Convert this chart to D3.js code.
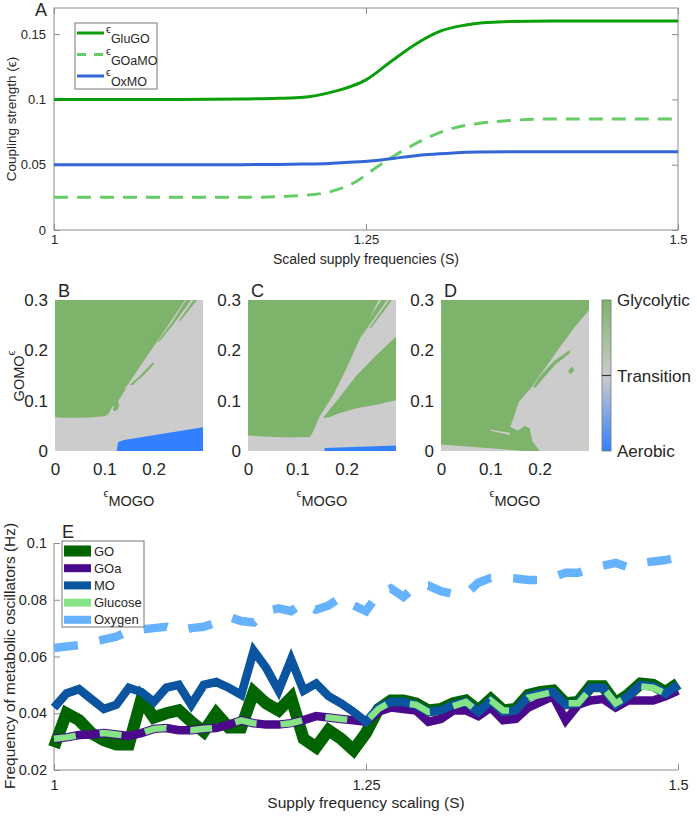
<!DOCTYPE html>
<html><head><meta charset="utf-8">
<script src="https://cdn.jsdelivr.net/npm/d3@7/dist/d3.min.js"></script>
<style>
body{margin:0;background:#fff;}
svg text{font-family:"Liberation Sans",Arial,Helvetica,sans-serif;fill:#262626;}
</style></head>
<body><svg id="chart" width="697" height="816"></svg>
<script>
// ================= DATA =================
// Panel A : coupling strengths vs scaled supply frequency
const sGluGO = [1.00,1.10,1.15,1.18,1.20,1.22,1.23,1.25,1.27,1.29,1.31,1.33,1.36,1.40,1.45,1.50];
const vGluGO = [0.100,0.100,0.1003,0.1008,0.1016,0.1050,0.1075,0.1150,0.1290,0.1425,0.1525,0.1570,0.1595,0.1600,0.1600,0.1600];
const sGOaMO = [1.00,1.10,1.15,1.18,1.20,1.22,1.24,1.26,1.28,1.30,1.32,1.34,1.36,1.40,1.45,1.50];
const vGOaMO = [0.025,0.025,0.025,0.0255,0.0265,0.029,0.036,0.049,0.061,0.071,0.078,0.0815,0.0835,0.085,0.085,0.085];
const sOxMO  = [1.00,1.10,1.15,1.18,1.20,1.22,1.24,1.26,1.28,1.30,1.32,1.34,1.38,1.45,1.50];
const vOxMO  = [0.050,0.050,0.050,0.0502,0.0505,0.051,0.052,0.0535,0.0558,0.0578,0.059,0.0597,0.060,0.060,0.060];
const seriesA = ["GluGO","GOaMO","OxMO"];
const ticksAx = [1,1.25,1.5];
const ticksAy = [0,0.05,0.1,0.15];

// Panels B-D : regime maps (region outlines in eps_MOGO / eps_GOMO coordinates)
const mapTicksX = [0,0.1,0.2];
const mapTicksY = [0,0.1,0.2,0.3];
const bGreen = [[0,0.3],[0.2635,0.3],[0.235,0.258],[0.205,0.215],[0.175,0.172],[0.15,0.135],[0.135,0.11],[0.128,0.1],[0.13,0.09],[0.127,0.082],[0.12,0.079],[0.117,0.083],[0.12,0.088],[0.116,0.089],[0.112,0.08],[0.108,0.073],[0.1,0.069],[0.06,0.066],[0.02,0.066],[0,0.067]];
const bGreenBits = [
  [[0.151,0.131],[0.17,0.147],[0.198,0.176],[0.201,0.173],[0.18,0.151],[0.157,0.131]],
  [[0.266,0.3],[0.276,0.3],[0.24,0.252],[0.212,0.218],[0.207,0.216],[0.236,0.254]],
  [[0.281,0.3],[0.288,0.3],[0.255,0.26],[0.25,0.258]],
  [[0.186,0.205],[0.222,0.245],[0.224,0.243],[0.19,0.204]]
];
const bGrayBits = [[[0.14,0.124],[0.175,0.16],[0.196,0.177],[0.18,0.158],[0.15,0.128]]];
const bBlue  = [[0.125,0],[0.128,0.018],[0.14,0.022],[0.3,0.047],[0.3,0]];

const cGreen = [[0,0.3],[0.265,0.3],[0.25,0.27],[0.23,0.23],[0.2,0.165],[0.175,0.115],[0.158,0.088],[0.145,0.068],[0.138,0.052],[0.13,0.035],[0.125,0.028],[0.08,0.027],[0.03,0.029],[0,0.031]];
const cGreenBits = [
  [[0.152,0.066],[0.18,0.1],[0.22,0.15],[0.26,0.19],[0.3,0.227],[0.3,0.101],[0.26,0.092],[0.22,0.085],[0.185,0.075],[0.165,0.067]],
  [[0.27,0.3],[0.282,0.3],[0.235,0.235],[0.205,0.198],[0.2,0.197],[0.228,0.235]],
  [[0.286,0.3],[0.292,0.3],[0.25,0.245],[0.245,0.243]]
];
const cGrayBits = [[[0.205,0.085],[0.3,0.128],[0.3,0.122],[0.215,0.086]]];
const cBlue  = [[0.155,0],[0.155,0.006],[0.3,0.011],[0.3,0]];

const dGreen = [[0,0.3],[0.3,0.3],[0.3,0.28],[0.27,0.245],[0.24,0.205],[0.215,0.17],[0.2,0.15],[0.185,0.128],[0.17,0.112],[0.158,0.098],[0.151,0.078],[0.145,0.06],[0.14,0.048],[0.155,0.04],[0.17,0.05],[0.18,0.045],[0.185,0.02],[0.2,0],[0.17,0],[0,0.013]];
const dGreenBits = [
  [[0.186,0.126],[0.2,0.148],[0.228,0.178],[0.26,0.2],[0.262,0.195],[0.232,0.172],[0.205,0.142],[0.192,0.126]],
  [[0.258,0.16],[0.266,0.168],[0.27,0.16],[0.262,0.152]]
];
const dGrayBits = [[[0.1,0.042],[0.14,0.036],[0.14,0.032],[0.1,0.04]]];
const dBlue = [];
const cbLabels = ["Glycolytic","Transition","Aerobic"];

// Panel E : frequencies of metabolic oscillators
const sE = [1.00,1.01,1.02,1.03,1.04,1.05,1.06,1.07,1.08,1.09,1.10,1.11,1.12,1.13,1.14,1.15,1.16,1.17,1.18,1.19,1.20,1.21,1.22,1.23,1.24,1.25,1.26,1.27,1.28,1.29,1.30,1.31,1.32,1.33,1.34,1.35,1.36,1.37,1.38,1.39,1.40,1.41,1.42,1.43,1.44,1.45,1.46,1.47,1.48,1.49,1.50];
const GO = [0.028,0.040,0.0376,0.033,0.0305,0.029,0.029,0.045,0.0385,0.040,0.041,0.037,0.0335,0.040,0.035,0.035,0.0475,0.0435,0.041,0.0455,0.031,0.028,0.034,0.031,0.027,0.033,0.0415,
            0.0445,0.0445,0.0435,0.041,0.0415,0.0435,0.0445,0.041,0.045,0.041,0.0415,0.0465,0.0475,0.048,0.0435,0.044,0.0495,0.0495,0.0435,0.0465,0.0505,0.050,0.0475,0.0505];
const GOa = [0.031,0.0315,0.0323,0.0325,0.033,0.0325,0.032,0.033,0.0345,0.0348,0.034,0.034,0.0345,0.0348,0.036,0.0375,0.0365,0.036,0.036,0.0365,0.0376,0.039,0.0385,0.038,0.0375,0.037,0.0405,
             0.042,0.0415,0.041,0.037,0.038,0.041,0.041,0.039,0.042,0.0375,0.038,0.042,0.044,0.046,0.0375,0.043,0.0445,0.045,0.042,0.0445,0.0445,0.0445,0.046,0.048];
const MO = [0.042,0.047,0.0485,0.045,0.0415,0.043,0.049,0.0475,0.044,0.049,0.050,0.043,0.050,0.051,0.049,0.0465,0.062,0.056,0.048,0.059,0.048,0.0505,0.046,0.0435,0.0405,0.037,0.042,
            0.044,0.044,0.043,0.0405,0.041,0.043,0.044,0.0405,0.0445,0.0405,0.041,0.046,0.047,0.0475,0.043,0.0435,0.049,0.049,0.043,0.046,0.050,0.0495,0.047,0.050];
const Glucose = [0.031,0.0315,0.0323,0.0325,0.033,0.0325,0.032,0.033,0.0345,0.0348,0.034,0.034,0.0345,0.0348,0.036,0.0375,0.0365,0.036,0.036,0.0365,0.0376,0.039,0.0385,0.038,0.0375,0.037,0.0415,
                 0.044,0.0435,0.043,0.0405,0.041,0.0425,0.044,0.0405,0.0445,0.041,0.041,0.0455,0.0465,0.0475,0.0435,0.0435,0.0485,0.049,0.0435,0.046,0.0495,0.049,0.047,0.049];
const Oxygen = [0.063,0.0635,0.064,0.065,0.066,0.067,0.069,0.0695,0.070,0.0705,0.069,0.070,0.0705,0.072,0.074,0.0725,0.072,0.076,0.077,0.076,0.079,0.0765,0.078,0.081,0.078,0.076,0.082,
                0.084,0.081,0.085,0.085,0.083,0.082,0.082,0.086,0.0877,0.0877,0.0875,0.087,0.087,0.088,0.0895,0.0895,0.091,0.092,0.093,0.0915,0.093,0.0935,0.094,0.095];
const namesE = ["GO","GOa","MO","Glucose","Oxygen"];
const ticksEx = [1,1.25,1.5];
const ticksEy = [0.02,0.04,0.06,0.08,0.1];

// ================= DRAWING =================
const svg = d3.select("#chart");
const AX = "#8c8c8c";
const fmt = d => String(+d.toFixed(3));

function styleAxis(g, fs){
  g.select(".domain").remove();
  g.selectAll(".tick line").attr("stroke", AX);
  g.selectAll(".tick text").attr("font-size", fs).attr("fill","#262626").style("font-family","Liberation Sans, Arial, sans-serif");
}

// ---------- Panel A ----------
const xA = d3.scaleLinear().domain([1,1.5]).range([54,678]);
const yA = d3.scaleLinear().domain([0,0.17]).range([230,8]);
const gA = svg.append("g");
gA.append("rect").attr("x",54).attr("y",8).attr("width",624).attr("height",222).attr("fill","none").attr("stroke",AX);
styleAxis(gA.append("g").attr("transform","translate(0,230)").call(d3.axisBottom(xA).tickValues(ticksAx).tickSize(-6).tickPadding(5).tickFormat(fmt)),13);
styleAxis(gA.append("g").attr("transform","translate(0,8)").call(d3.axisTop(xA).tickValues(ticksAx).tickSize(-6).tickFormat("")),13);
styleAxis(gA.append("g").attr("transform","translate(54,0)").call(d3.axisLeft(yA).tickValues(ticksAy).tickSize(-6).tickPadding(8).tickFormat(fmt)),13);
styleAxis(gA.append("g").attr("transform","translate(678,0)").call(d3.axisRight(yA).tickValues(ticksAy).tickSize(-6).tickFormat("")),13);

const lineA = d3.line().x(d=>xA(d[0])).y(d=>yA(d[1])).curve(d3.curveMonotoneX);
const styleA = {
  GluGO:{data:d3.zip(sGluGO,vGluGO), color:"#0a9e0a", dash:null},
  GOaMO:{data:d3.zip(sGOaMO,vGOaMO), color:"#66cc66", dash:"14,9"},
  OxMO:{data:d3.zip(sOxMO,vOxMO), color:"#3366d6", dash:null}
};
seriesA.forEach(k=>{
  gA.append("path").attr("d", lineA(styleA[k].data)).attr("fill","none")
    .attr("stroke", styleA[k].color).attr("stroke-width",3).attr("stroke-dasharray", styleA[k].dash);
});
gA.append("text").attr("x",35).attr("y",16).attr("font-size",18).text("A");
gA.append("text").attr("transform","translate(16,119) rotate(-90)").attr("text-anchor","middle").attr("font-size",13.5).text("Coupling strength (ϵ)");
gA.append("text").attr("x",366).attr("y",264).attr("text-anchor","middle").attr("font-size",14).text("Scaled supply frequencies (S)");
// legend
const legA = gA.append("g");
legA.append("rect").attr("x",75).attr("y",23).attr("width",82).attr("height",66).attr("fill","#fff").attr("stroke","#777");
seriesA.forEach((k,i)=>{
  const yy = 33 + i*21.5;
  legA.append("line").attr("x1",77).attr("x2",104).attr("y1",yy).attr("y2",yy)
    .attr("stroke",styleA[k].color).attr("stroke-width",3).attr("stroke-dasharray", styleA[k].dash ? "9,8" : null);
  const t = legA.append("text").attr("x",106).attr("y",yy);
  t.append("tspan").attr("font-size",11).text("ϵ");
  t.append("tspan").attr("font-size",12.5).attr("dy",10).text(k);
});

// ---------- Panels B-D ----------
const GREEN="#7db36a", GRAY="#cccccc", BLUE="#3380ff";
function drawMap(x0, letter, green, greenBits, grayBits, blue, idx){
  const x = d3.scaleLinear().domain([0,0.3]).range([x0,x0+148]);
  const y = d3.scaleLinear().domain([0,0.3]).range([451,300]);
  const g = svg.append("g");
  g.append("clipPath").attr("id","clip"+idx).append("rect").attr("x",x0).attr("y",300).attr("width",148).attr("height",151);
  const p = g.append("g").attr("clip-path","url(#clip"+idx+")");
  const ln = d3.line().x(d=>x(d[0])).y(d=>y(d[1])).curve(d3.curveLinearClosed);
  p.append("rect").attr("x",x0).attr("y",300).attr("width",148).attr("height",151).attr("fill",GRAY);
  p.append("path").attr("d",ln(green)).attr("fill",GREEN);
  grayBits.forEach(b=>p.append("path").attr("d",ln(b)).attr("fill",GRAY));
  greenBits.forEach(b=>p.append("path").attr("d",ln(b)).attr("fill",GREEN));
  if(blue.length) p.append("path").attr("d",ln(blue)).attr("fill",BLUE);
  const ax = g.append("g").attr("transform","translate(0,451)").call(d3.axisBottom(x).tickValues(mapTicksX).tickSize(0).tickPadding(12).tickFormat(fmt));
  styleAxis(ax,17);
  const ay = g.append("g").attr("transform","translate("+x0+",0)").call(d3.axisLeft(y).tickValues(mapTicksY).tickSize(0).tickPadding(7).tickFormat(fmt));
  styleAxis(ay,17);
  g.append("text").attr("x",x0+3).attr("y",297).attr("font-size",18).text(letter);
  const t = g.append("text").attr("x",x0+74).attr("y",497).attr("text-anchor","middle");
  t.append("tspan").attr("font-size",11).text("ϵ");
  t.append("tspan").attr("font-size",14.5).attr("dy",9).text("MOGO");
}
drawMap(55,"B",bGreen,bGreenBits,bGrayBits,bBlue,0);
drawMap(248,"C",cGreen,cGreenBits,cGrayBits,cBlue,1);
drawMap(441,"D",dGreen,dGreenBits,dGrayBits,dBlue,2);
{
  // vertical label: epsilon sits at the upper end, GOMO below it
  const t = svg.append("text").attr("transform","translate(24,376) rotate(-90)").attr("text-anchor","middle");
  t.append("tspan").attr("font-size",14.5).text("GOMO");
  t.append("tspan").attr("font-size",11).attr("dy",-9).text("ϵ");
}
// colorbar
{
  const defs = svg.append("defs");
  const lg = defs.append("linearGradient").attr("id","cb").attr("x1",0).attr("x2",0).attr("y1",0).attr("y2",1);
  [[0,GREEN],[0.5,GRAY],[1,BLUE]].forEach(s=>lg.append("stop").attr("offset",s[0]).attr("stop-color",s[1]));
  const yc = d3.scalePoint().domain(cbLabels).range([300,451]);
  svg.append("rect").attr("x",602).attr("y",300).attr("width",9).attr("height",151).attr("fill","url(#cb)").attr("stroke","#777").attr("stroke-width",0.8);
  svg.append("line").attr("x1",602).attr("x2",611).attr("y1",yc("Transition")).attr("y2",yc("Transition")).attr("stroke","#333").attr("stroke-width",1.2);
  cbLabels.forEach(l=>svg.append("text").attr("x",617).attr("y",yc(l)).attr("dy","0.36em").attr("font-size",17).text(l));
}

// ---------- Panel E ----------
const xE = d3.scaleLinear().domain([1,1.5]).range([54,678]);
const yE = d3.scaleLinear().domain([0.02,0.1]).range([770,543]);
const gE = svg.append("g");
gE.append("line").attr("x1",54).attr("x2",54).attr("y1",543).attr("y2",770).attr("stroke",AX);
gE.append("line").attr("x1",54).attr("x2",678).attr("y1",770).attr("y2",770).attr("stroke",AX);
styleAxis(gE.append("g").attr("transform","translate(0,770)").call(d3.axisBottom(xE).tickValues(ticksEx).tickSize(-6).tickPadding(10).tickFormat(fmt)),14.5);
styleAxis(gE.append("g").attr("transform","translate(54,0)").call(d3.axisLeft(yE).tickValues(ticksEy).tickSize(-6).tickPadding(7).tickFormat(fmt)),14.5);

const styleE = {
  GO:{v:GO, color:"#006400", w:12, dash:null, sw:11},
  GOa:{v:GOa, color:"#4b0a8c", w:8.5, dash:null, sw:8},
  MO:{v:MO, color:"#0a54a0", w:8.5, dash:null, sw:8},
  Glucose:{v:Glucose, color:"#86e386", w:6.5, dash:"22,24", sw:8},
  Oxygen:{v:Oxygen, color:"#66b2ff", w:8.5, dash:"24,22", sw:8}
};
const lineE = d3.line().x(d=>xE(d[0])).y(d=>yE(d[1]));
namesE.forEach(k=>{
  gE.append("path").attr("d",lineE(d3.zip(sE,styleE[k].v))).attr("fill","none")
    .attr("stroke",styleE[k].color).attr("stroke-width",styleE[k].w)
    .attr("stroke-linejoin","miter").attr("stroke-miterlimit",3)
    .attr("stroke-dasharray",styleE[k].dash);
});
gE.append("text").attr("x",62).attr("y",538).attr("font-size",18).text("E");
gE.append("text").attr("transform","translate(15,656) rotate(-90)").attr("text-anchor","middle").attr("font-size",15.4).text("Frequency of metabolic oscillators (Hz)");
gE.append("text").attr("x",366).attr("y",808).attr("text-anchor","middle").attr("font-size",15.5).text("Supply frequency scaling (S)");
const legE = gE.append("g");
legE.append("rect").attr("x",62).attr("y",541).attr("width",82).attr("height",86).attr("fill","#fff").attr("stroke","#777");
namesE.forEach((k,i)=>{
  const yy = 551 + i*17.2;
  legE.append("rect").attr("x",64).attr("y",yy-styleE[k].sw/2).attr("width",27).attr("height",styleE[k].sw).attr("fill",styleE[k].color);
  legE.append("text").attr("x",94).attr("y",yy).attr("dy","0.36em").attr("font-size",13).text(k);
});
</script>
</body></html>
